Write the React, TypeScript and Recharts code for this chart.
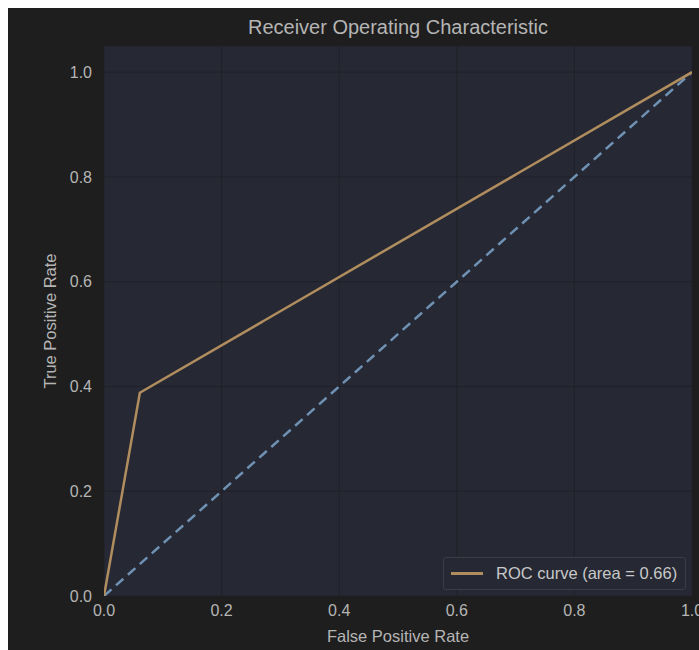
import { LineChart, Line, XAxis, YAxis, CartesianGrid, Legend } from "recharts";

const fpr = [0, 0.061, 1];
const tpr = [0, 0.388, 1];
const chanceX = [0, 1];
const chanceY = [0, 1];
const xTicks = [0, 0.2, 0.4, 0.6, 0.8, 1];
const yTicks = [0, 0.2, 0.4, 0.6, 0.8, 1];
const rocArea = 0.66;

const rocData = fpr.map((x, i) => ({ x, y: tpr[i] }));
const chanceData = chanceX.map((x, i) => ({ x, y: chanceY[i] }));

const textColor = "#b5b5b5";
const font = "'Liberation Sans', Arial, sans-serif";

const RocLegend = () => (
  <div
    style={{
      display: "flex",
      alignItems: "center",
      boxSizing: "border-box",
      width: 243,
      height: 33,
      border: "1px solid #3a3c46",
      borderRadius: 3,
      background: "#262833",
      padding: "0 7px",
      fontFamily: font,
      fontSize: 16.5,
      color: "#c8c8c8",
      whiteSpace: "nowrap",
    }}
  >
    <span style={{ display: "inline-block", width: 32, height: 3, background: "#b08d5e", marginRight: 13 }} />
    ROC curve (area = {rocArea.toFixed(2)})
  </div>
);

const App = () => {
  return (
    <div
      style={{
        position: "fixed",
        left: 8,
        top: 8,
        width: 691,
        height: 642,
        overflow: "hidden",
        background: "#1e1e1e",
      }}
    >
      <div
        style={{
          position: "absolute",
          top: 8,
          left: 96,
          width: 588,
          textAlign: "center",
          fontFamily: font,
          fontSize: 20,
          color: textColor,
        }}
      >
        Receiver Operating Characteristic
      </div>
      <LineChart
        width={720}
        height={642}
        margin={{ top: 38, right: 36, bottom: 0, left: 0 }}
        style={{ fontFamily: font }}
      >
        <CartesianGrid stroke="#202129" strokeWidth={1} fill="#262833" />
        <XAxis
          type="number"
          dataKey="x"
          domain={[0, 1]}
          ticks={xTicks}
          tickFormatter={(v: number) => v.toFixed(1)}
          tick={{ fill: textColor, fontSize: 16 }}
          tickLine={false}
          axisLine={false}
          tickMargin={3}
          height={54}
          allowDataOverflow
          label={{ value: "False Positive Rate", position: "insideBottom", offset: 8, fill: textColor, fontSize: 16.5 }}
        />
        <YAxis
          type="number"
          domain={[0, 1.05]}
          ticks={yTicks}
          tickFormatter={(v: number) => v.toFixed(1)}
          tick={{ fill: textColor, fontSize: 16 }}
          tickLine={false}
          axisLine={false}
          tickMargin={6}
          width={96}
          allowDataOverflow
          label={{ value: "True Positive Rate", angle: -90, position: "insideLeft", offset: 42, fill: textColor, fontSize: 16.5, style: { textAnchor: "middle" } }}
        />
        <Line
          data={chanceData}
          dataKey="y"
          type="linear"
          stroke="#6f92b4"
          strokeWidth={2.5}
          strokeDasharray="10 6"
          dot={false}
          isAnimationActive={false}
          legendType="none"
        />
        <Line
          data={rocData}
          dataKey="y"
          type="linear"
          stroke="#b08d5e"
          strokeWidth={2.5}
          dot={false}
          isAnimationActive={false}
        />
        <Legend
          layout="horizontal"
          verticalAlign="middle"
          align="center"
          content={() => <RocLegend />}
          wrapperStyle={{ position: "absolute", left: 435, top: 549, width: "auto", bottom: "auto", right: "auto" }}
        />
      </LineChart>
    </div>
  );
};

export default App;
